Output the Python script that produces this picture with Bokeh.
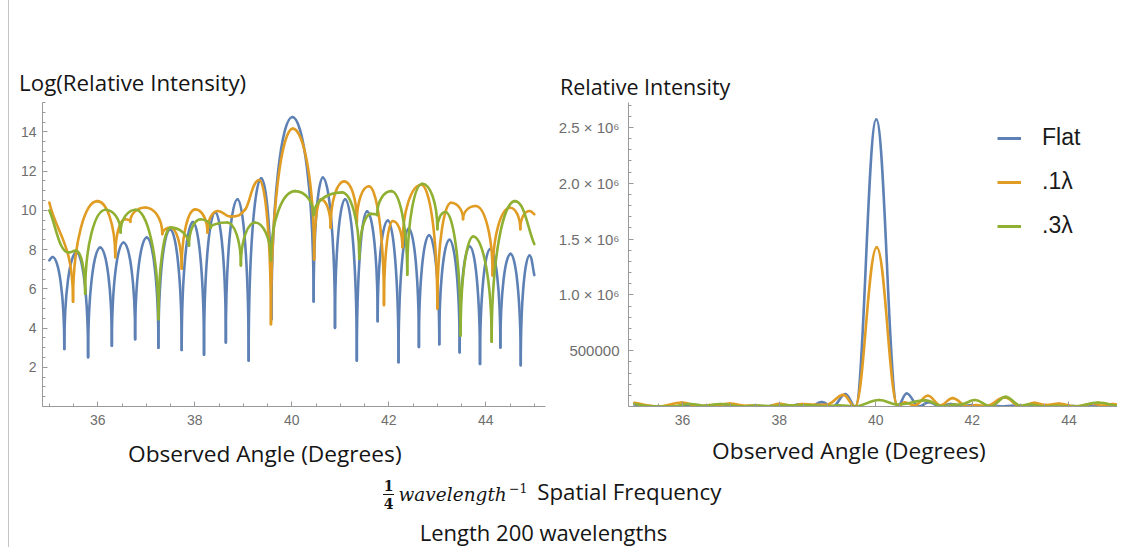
import math
from bokeh.plotting import figure
from bokeh.models import (ColumnDataSource, Label, Legend, LegendItem,
                          FixedTicker, Range1d)
from bokeh.layouts import row, column
from bokeh.embed import file_html
from bokeh.resources import INLINE

# ---------------- data ----------------
# Key points of each curve: observed angle (deg), Log(relative intensity).
# kind: "v" = sharp minimum, "h" = smooth extremum, "s" = end / slope point
FLAT_ANGLE = [35.00, 35.07, 35.31, 35.56, 35.80, 36.05, 36.29, 36.53, 36.77, 37.01,
              37.25, 37.49, 37.73, 37.96, 38.19, 38.42, 38.64, 38.88, 39.11, 39.37,
              39.58, 40.01, 40.45, 40.64, 40.89, 41.10, 41.34, 41.55, 41.77, 41.98,
              42.20, 42.41, 42.62, 42.83, 43.04, 43.25, 43.46, 43.67, 43.88, 44.09,
              44.30, 44.51, 44.72, 44.90, 45.00]
FLAT_LOG = [7.45, 7.62, 2.93, 7.86, 2.51, 8.11, 3.10, 8.36, 3.43, 8.62,
            3.00, 9.03, 2.88, 9.40, 2.64, 9.90, 3.26, 10.57, 2.34, 11.63,
            4.45, 14.76, 5.35, 11.67, 4.01, 10.57, 2.34, 9.95, 4.35, 9.48,
            2.26, 9.07, 3.04, 8.73, 3.18, 8.50, 2.76, 8.16, 2.17, 8.03,
            3.01, 7.78, 2.10, 7.70, 6.70]
FLAT_KIND = list("sh" + "vh" * 21 + "s")

P1_ANGLE = [35.00, 35.49, 35.99, 36.36, 36.56, 36.67, 36.98, 37.33, 37.50, 37.73,
            38.01, 38.26, 38.47, 38.74, 39.04, 39.33, 39.57, 40.02, 40.46, 40.60,
            40.80, 41.08, 41.34, 41.59, 41.90, 42.08, 42.28, 42.67, 43.00, 43.28,
            43.53, 43.79, 44.14, 44.50, 44.71, 44.90, 45.00]
P1_LOG = [10.40, 5.34, 10.47, 7.61, 9.55, 9.42, 10.15, 8.79, 9.12, 7.02,
          10.05, 8.87, 9.97, 9.68, 10.05, 11.55, 4.20, 14.17, 7.50, 10.56,
          9.12, 11.48, 9.38, 11.23, 5.17, 9.46, 8.12, 11.31, 5.00, 10.39,
          9.55, 10.22, 6.68, 10.13, 9.04, 9.97, 9.80]
P1_KIND = list("svhvhvhvhvhvh" + "hs" + "h" + "vh" * 10 + "s")

P3_ANGLE = [35.00, 35.40, 35.55, 35.74, 36.16, 36.47, 36.78, 37.25, 37.50, 37.88,
            38.12, 38.33, 38.67, 38.95, 39.24, 39.57, 40.07, 40.45, 41.03, 41.39,
            41.63, 41.76, 42.05, 42.38, 42.69, 43.00, 43.17, 43.48, 43.74, 44.12,
            44.60, 45.00]
P3_LOG = [10.00, 7.85, 7.95, 5.75, 10.03, 8.87, 10.03, 4.45, 9.12, 8.20,
          9.55, 9.12, 9.38, 7.19, 9.38, 7.45, 10.98, 9.75, 10.92, 7.53,
          9.82, 9.76, 10.98, 6.72, 11.36, 9.04, 9.92, 3.62, 8.67, 3.30,
          10.47, 8.28]
P3_KIND = list("shh" + "vh" * 14 + "s")

SERIES_NAMES = ["Flat", ".1λ", ".3λ"]
SERIES_COLORS = ["#5E81B5", "#E19C24", "#8FB032"]

X_TICKS = [36, 38, 40, 42, 44]
LOG_TICKS = [2, 4, 6, 8, 10, 12, 14]
LIN_TICKS = [500000, 1000000, 1500000, 2000000, 2500000]
LIN_TICK_LABELS = ["500000", "1.0 × 10⁶", "1.5 × 10⁶", "2.0 × 10⁶", "2.5 × 10⁶"]

LEFT_TITLE = "Log(Relative Intensity)"
RIGHT_TITLE = "Relative Intensity"
X_TITLE = "Observed Angle (Degrees)"
CAPTION_1 = "Spatial Frequency"
CAPTION_2 = "Length 200 wavelengths"

series = [(FLAT_ANGLE, FLAT_LOG, FLAT_KIND),
          (P1_ANGLE, P1_LOG, P1_KIND),
          (P3_ANGLE, P3_LOG, P3_KIND)]
for a, b, c in series:
    assert len(a) == len(b) == len(c)

# ---------------- helpers ----------------
TEXT_FONT = "Open Sans"
TICK_FONT = "Liberation Sans"
AXIS_GRAY = "#9a9a9a"
TICK_GRAY = "#6e6e6e"
INK = "#151515"
BASELINE_SHIFT = 0.42   # Bokeh's alphabetic anchor sits this many em above the drawn baseline


def bezier_columns(xs, ys, kinds, cusp, kh, kv=0.6):
    n = len(xs)
    cols = {k: [] for k in ("x0", "y0", "x1", "y1", "cx0", "cy0", "cx1", "cy1")}

    def slope(i):
        a, b = max(i - 1, 0), min(i + 1, n - 1)
        return (ys[b] - ys[a]) / (xs[b] - xs[a])

    for i in range(n - 1):
        xa, ya, ka = xs[i], ys[i], kinds[i]
        xb, yb, kb = xs[i + 1], ys[i + 1], kinds[i + 1]
        dx, dy = xb - xa, yb - ya
        if ka == "s":
            m = slope(i)
            c0 = (xa + dx / 3, ya + m * dx / 3)
        elif ka == "v" and cusp:
            c0 = (xa, ya + kv * dy)
        else:
            c0 = (xa + kh * dx, ya)
        if kb == "s":
            m = slope(i + 1)
            c1 = (xb - dx / 3, yb - m * dx / 3)
        elif kb == "v" and cusp:
            c1 = (xb, yb - kv * dy)
        else:
            c1 = (xb - kh * dx, yb)
        cols["x0"].append(xa); cols["y0"].append(ya)
        cols["x1"].append(xb); cols["y1"].append(yb)
        cols["cx0"].append(c0[0]); cols["cy0"].append(c0[1])
        cols["cx1"].append(c1[0]); cols["cy1"].append(c1[1])
    return ColumnDataSource(cols)


def style_axes(p):
    for ax in p.axis:
        ax.axis_line_color = AXIS_GRAY
        ax.major_tick_line_color = AXIS_GRAY
        ax.minor_tick_line_color = AXIS_GRAY
        ax.major_tick_in = 5
        ax.major_tick_out = 0
        ax.minor_tick_in = 3
        ax.minor_tick_out = 0
        ax.major_label_text_font = TICK_FONT
        ax.major_label_text_font_size = "14px"
        ax.major_label_text_color = TICK_GRAY
    p.xgrid.visible = False
    p.ygrid.visible = False
    p.outline_line_color = None
    p.background_fill_color = "white"
    p.border_fill_color = "white"


def blank_figure(width, height, y_top, y_bottom):
    # a text strip whose data coordinates are page pixels
    f = figure(width=width, height=height, x_range=Range1d(9, 9 + width),
               y_range=Range1d(y_bottom, y_top), x_axis_type=None, y_axis_type=None,
               toolbar_location=None, output_backend="svg", min_border=0)
    f.outline_line_color = None
    f.background_fill_color = "white"
    f.border_fill_color = "white"
    return f


def text_label(p, x, y, text, size=22.0, align="left", font=TEXT_FONT,
               style="normal", baseline="alphabetic", color=INK):
    if baseline == "alphabetic":
        y = y - BASELINE_SHIFT * size
    p.add_layout(Label(x=x, y=y, text=text, text_font=font, text_font_size=f"{size}px",
                       text_font_style=style, text_align=align,
                       text_baseline=baseline, text_color=color))


X_MINOR = [35 + 0.5 * i for i in range(21)]
ROW_H = 332

# ---------------- top strip: plot titles ----------------
p0 = blank_figure(1108, 101, 0, 101)
text_label(p0, 18.6, 91.7, LEFT_TITLE, size=22.3)
text_label(p0, 559.4, 95.0, RIGHT_TITLE, size=21.5)

# ---------------- left: log plot ----------------
# frame: page x 42..545, page y 102..409
p1 = figure(width=544, height=ROW_H, x_range=Range1d(34.86, 45.23), y_range=Range1d(0, 15.5),
            toolbar_location=None, output_backend="svg",
            min_border_left=33, min_border_right=8, min_border_top=1,
            min_border_bottom=ROW_H - 1 - 307)
style_axes(p1)
p1.xaxis.ticker = FixedTicker(ticks=X_TICKS, minor_ticks=X_MINOR)
p1.yaxis.ticker = FixedTicker(ticks=LOG_TICKS, minor_ticks=[0.5 * i for i in range(32)])
p1.xaxis.major_label_standoff = 8
p1.yaxis.major_label_standoff = 6

for (xs, ys, ks), color in zip(series, SERIES_COLORS):
    src = bezier_columns(xs, ys, ks, cusp=True, kh=0.5)
    p1.bezier(x0="x0", y0="y0", x1="x1", y1="y1", cx0="cx0", cy0="cy0", cx1="cx1", cy1="cy1",
              source=src, line_color=color, line_width=2.6, line_cap="round")

# ---------------- right: linear plot ----------------
# frame: page x 628..1117, page y 102..406
p2 = figure(width=564, height=ROW_H, x_range=Range1d(34.88, 45.005), y_range=Range1d(0, 2.724e6),
            toolbar_location=None, output_backend="svg",
            min_border_left=75, min_border_right=0, min_border_top=1,
            min_border_bottom=ROW_H - 1 - 304)
style_axes(p2)
p2.xaxis.ticker = FixedTicker(ticks=X_TICKS, minor_ticks=X_MINOR)
p2.yaxis.ticker = FixedTicker(ticks=LIN_TICKS, minor_ticks=[100000 * i for i in range(28)])
p2.yaxis.major_label_overrides = {t: s for t, s in zip(LIN_TICKS, LIN_TICK_LABELS)}
p2.yaxis.major_label_text_font_size = "15px"
p2.xaxis.major_label_standoff = 8
p2.yaxis.major_label_standoff = 9

legend_items = []
for (xs, ys, ks), color, name in zip(series, SERIES_COLORS, SERIES_NAMES):
    lin = [math.exp(v) for v in ys]
    src = bezier_columns(xs, lin, ks, cusp=False, kh=0.4)
    p2.bezier(x0="x0", y0="y0", x1="x1", y1="y1", cx0="cx0", cy0="cy0", cx1="cx1", cy1="cy1",
              source=src, line_color=color, line_width=2.6, line_cap="round")
    # single-point line: draws nothing itself, gives the legend its swatch
    swatch = p2.line(x=xs[:1], y=lin[:1], line_color=color, line_width=3)
    legend_items.append(LegendItem(label=name, renderers=[swatch]))

legend = Legend(items=legend_items, location=(369, 167), orientation="vertical")
legend.border_line_color = None
legend.background_fill_alpha = 0
legend.padding = 0
legend.margin = 0
legend.spacing = 17
legend.glyph_width = 24
legend.glyph_height = 20
legend.label_height = 20
legend.label_standoff = 21
legend.label_text_font = TICK_FONT
legend.label_text_font_size = "23px"
legend.label_text_color = "#1a1a1a"
p2.add_layout(legend)

# ---------------- bottom strip: axis titles and captions ----------------
P3_TOP = 101 + ROW_H
p3 = blank_figure(1108, 547 - P3_TOP, P3_TOP, 547)
text_label(p3, 264.3, 463.0, X_TITLE, size=22.7, align="center")
text_label(p3, 848.4, 460.0, X_TITLE, size=22.7, align="center")

text_label(p3, 388, 484.5, "1", size=14, align="center",
           font="DejaVu Serif", style="bold", baseline="middle")
p3.segment(x0=[382.5], y0=[494], x1=[393.5], y1=[494], line_color=INK, line_width=1.2)
text_label(p3, 388, 502.5, "4", size=14, align="center",
           font="DejaVu Serif", style="bold", baseline="middle")
text_label(p3, 398, 501.7, "wavelength", size=18.5, font="DejaVu Serif", style="italic")
text_label(p3, 508.5, 493.0, "−1", size=12.5, font="DejaVu Serif")
text_label(p3, 536.7, 500.0, CAPTION_1, size=22.3)
text_label(p3, 543, 541.0, CAPTION_2, size=22, align="center")

layout = column(p0, row(p1, p2), p3)
layout.styles = {"margin-left": "8px", "border-left": "1px solid #c4c4c4"}

open("out.html", "w").write(file_html(layout, INLINE))
